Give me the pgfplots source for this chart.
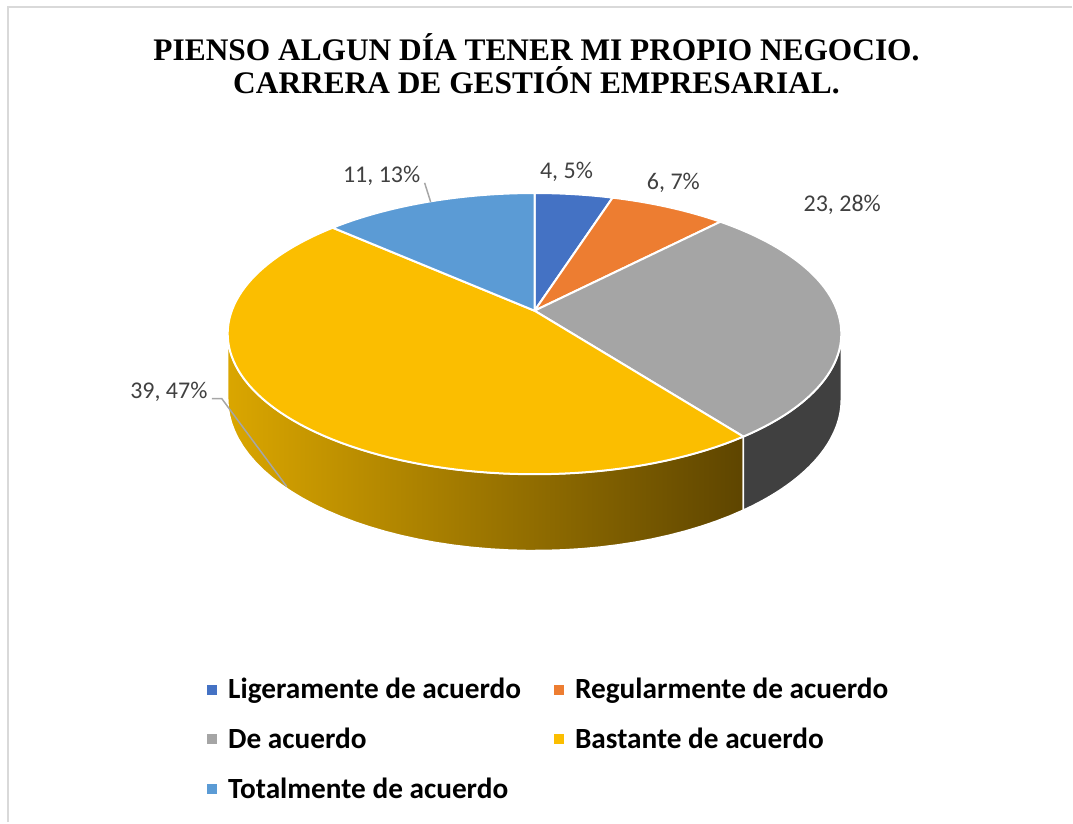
\documentclass[border=0pt]{standalone}
\usepackage{fontspec}
\setmainfont{Carlito}
\newfontfamily\titlefont{Liberation Serif}
\usepackage{pgfplots}
\pgfplotsset{compat=1.18}
\definecolor{cA}{HTML}{4472C4}
\definecolor{cB}{HTML}{ED7D31}
\definecolor{cC}{HTML}{A5A5A5}
\definecolor{cD}{HTML}{FBBE00}
\definecolor{cE}{HTML}{5B9BD5}
\definecolor{sideL}{HTML}{DAA600}
\definecolor{sideR}{HTML}{5E4500}
\definecolor{sideG}{HTML}{404040}
\definecolor{lbl}{HTML}{404040}
\definecolor{framec}{HTML}{D9D9D9}
\definecolor{leader}{HTML}{A6A6A6}
\begin{document}
\begin{tikzpicture}
% data values
\def\vA{4}\def\vB{6}\def\vC{23}\def\vD{39}\def\vE{11}
\pgfmathsetmacro\tot{\vA+\vB+\vC+\vD+\vE}
\pgfmathsetmacro\aA{\vA/\tot*360}
\pgfmathsetmacro\aB{(\vA+\vB)/\tot*360}
\pgfmathsetmacro\aC{(\vA+\vB+\vC)/\tot*360}
\pgfmathsetmacro\aD{(\vA+\vB+\vC+\vD)/\tot*360}
\pgfmathsetmacro\sR{acos(-0.163)}
\pgfmathsetmacro\sL{360-\sR}
\begin{axis}[
  width=536.5pt, height=411.5pt, scale only axis,
  xmin=0, xmax=1073, ymin=0, ymax=823,
  hide axis, clip=false,
  declare function={
    px(\t)=535+303*sin(\t)/(1+0.163*cos(\t));
    py(\t)=512+137*cos(\t)/(1+0.163*cos(\t));
    sT(\s,\a,\b)=\a+(\b-\a)*min(\s,81-\s)/40;
    sx(\s,\a,\b)=px(sT(\s,\a,\b));
    sy(\s,\a,\b)=py(sT(\s,\a,\b))-64*(\s>40.5)/(1+0.163*cos(sT(\s,\a,\b)));
  },
  legend image code/.code={\fill[#1] (0pt,-2.5pt) rectangle (5pt,2.5pt); \path (8.5pt,0pt);},
  legend style={at={(axis cs:201,153)}, anchor=north west, draw=none, fill=none,
    font=\bfseries\fontsize{14.65}{17}\selectfont, row sep=9.2pt,
    /tikz/every even column/.append style={column sep=14.5pt}},
  legend columns=2, legend cell align=left,
]
\path (axis cs:0,0) rectangle (axis cs:1073,823);
\draw[framec, line width=1pt] (axis cs:8,0) -- (axis cs:8,816) -- (axis cs:1073,816);
% sides
\addplot[forget plot, draw=white, line width=0.8pt, line join=round, left color=sideL, right color=sideR, samples at={0,1,...,81}]
  ({sx(x,\aC,\sL)},{sy(x,\aC,\sL)}) -- cycle;
\addplot[forget plot, draw=white, line width=0.8pt, line join=round, fill=sideG, samples at={0,1,...,81}]
  ({sx(x,\sR,\aC)},{sy(x,\sR,\aC)}) -- cycle;
% top slices
\addplot[forget plot, fill=cA, draw=white, line width=1pt, line join=round, domain=0:\aA, samples=20]
  ({px(x)},{py(x)}) -- (axis cs:535,512) -- cycle;
\addplot[forget plot, fill=cB, draw=white, line width=1pt, line join=round, domain=\aA:\aB, samples=20]
  ({px(x)},{py(x)}) -- (axis cs:535,512) -- cycle;
\addplot[forget plot, fill=cC, draw=white, line width=1pt, line join=round, domain=\aB:\aC, samples=60]
  ({px(x)},{py(x)}) -- (axis cs:535,512) -- cycle;
\addplot[forget plot, fill=cD, draw=white, line width=1pt, line join=round, domain=\aC:\aD, samples=90]
  ({px(x)},{py(x)}) -- (axis cs:535,512) -- cycle;
\addplot[forget plot, fill=cE, draw=white, line width=1pt, line join=round, domain=\aD:360, samples=30]
  ({px(x)},{py(x)}) -- (axis cs:535,512) -- cycle;
% leader lines
\addplot[forget plot, leader, line width=0.75pt, no marks] coordinates {(425,640) (431,621)};
\addplot[forget plot, leader, line width=0.75pt, no marks] coordinates {(212,424) (222,424) (287,336)};
% data labels
\node[font=\fontsize{12}{14}\selectfont, text=lbl] at (axis cs:567,651) {4, 5\%};
\node[font=\fontsize{12}{14}\selectfont, text=lbl] at (axis cs:674,640) {6, 7\%};
\node[font=\fontsize{12}{14}\selectfont, text=lbl] at (axis cs:843,618) {23, 28\%};
\node[font=\fontsize{12}{14}\selectfont, text=lbl] at (axis cs:169,431) {39, 47\%};
\node[font=\fontsize{12}{14}\selectfont, text=lbl] at (axis cs:382,647) {11, 13\%};
% title
\node[font=\titlefont\bfseries\fontsize{15.7}{16.8}\selectfont, align=center] at (axis cs:537,759)
  {PIENSO ALGUN DÍA TENER MI PROPIO NEGOCIO.\\CARRERA DE GESTIÓN EMPRESARIAL.};
% legend
\addlegendimage{fill=cA, draw=none}\addlegendentry{Ligeramente de acuerdo}
\addlegendimage{fill=cB, draw=none}\addlegendentry{Regularmente de acuerdo}
\addlegendimage{fill=cC, draw=none}\addlegendentry{De acuerdo}
\addlegendimage{fill=cD, draw=none}\addlegendentry{Bastante de acuerdo}
\addlegendimage{fill=cE, draw=none}\addlegendentry{Totalmente de acuerdo}
\end{axis}
\end{tikzpicture}
\end{document}
